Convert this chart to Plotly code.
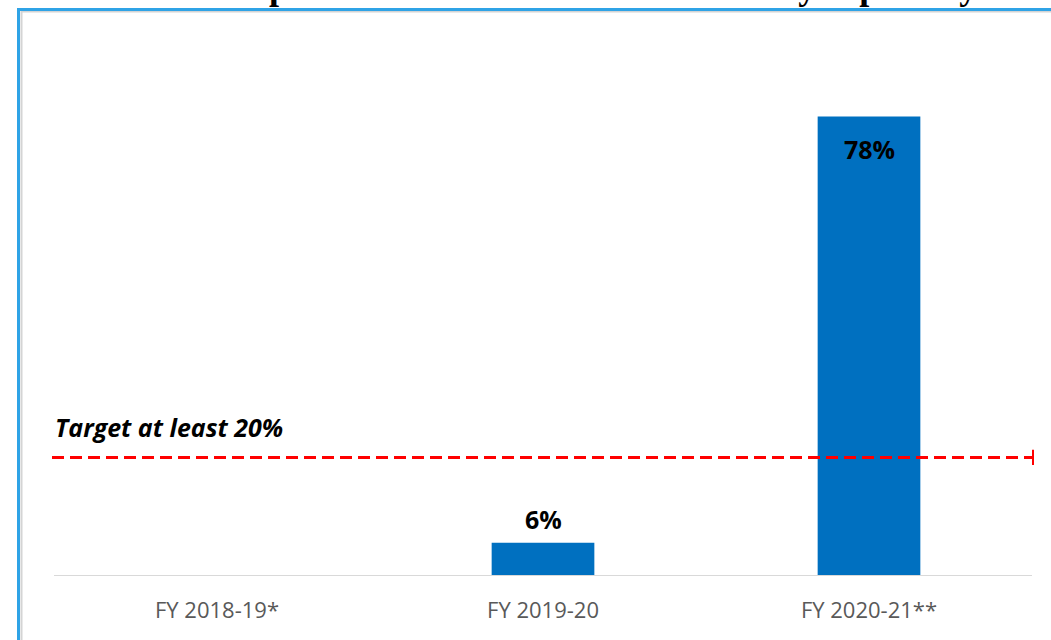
import plotly.graph_objects as go

categories = ["FY 2018-19*", "FY 2019-20", "FY 2020-21**"]
values = [0, 5.5, 78]
value_labels = ["", "6%", "78%"]
target = 20
target_label = "Target at least 20%"
title_text = "Overall improvement in the enhanced security capability"

W, H = 1051, 640
L, R, T, B = 54, 19, 40, 65
ymax = 91
pw = W - L - R
ph = H - T - B

def px_x(p):
    return (p - L) / pw

def px_y(p):
    return (H - B - p) / ph

fig = go.Figure()
fig.add_trace(go.Bar(
    x=categories, y=values,
    marker=dict(color="#0070C0", line=dict(width=0)),
    hoverinfo="skip",
))

for c, v, t in zip(categories, values, value_labels):
    if not t:
        continue
    shift = -33 if v > 40 else 24
    fig.add_annotation(x=c, y=v, text=f"<b>{t}</b>", showarrow=False,
                       yanchor="middle", yshift=shift,
                       font=dict(family="Open Sans", size=25, color="#000000"))

# target line
fig.add_shape(type="line", xref="paper", yref="y",
              x0=px_x(52), x1=px_x(1033), y0=target, y1=target,
              line=dict(color="#FF0000", width=3, dash="12px,6px"))
fig.add_shape(type="line", xref="paper", yref="y",
              x0=px_x(1033), x1=px_x(1033), y0=target - 1.3, y1=target + 1.3,
              line=dict(color="#FF0000", width=2))
fig.add_annotation(xref="paper", yref="y", x=px_x(53), y=target, xanchor="left",
                   yanchor="middle", yshift=30, showarrow=False,
                   text=f"<b><i>{target_label}</i></b>",
                   font=dict(family="Open Sans", size=25, color="#000000"))

# frame
fig.add_shape(type="line", xref="paper", yref="paper",
              x0=px_x(21.5), x1=px_x(21.5), y0=px_y(11), y1=px_y(700),
              line=dict(color="#D4D4D4", width=2))
fig.add_shape(type="line", xref="paper", yref="paper",
              x0=px_x(21), x1=px_x(1100), y0=px_y(11.5), y1=px_y(11.5),
              line=dict(color="#D4D4D4", width=2))
fig.add_shape(type="line", xref="paper", yref="paper",
              x0=px_x(18.5), x1=px_x(18.5), y0=px_y(8), y1=px_y(700),
              line=dict(color="#2FA3E6", width=3))
fig.add_shape(type="line", xref="paper", yref="paper",
              x0=px_x(17), x1=px_x(1100), y0=px_y(9.5), y1=px_y(9.5),
              line=dict(color="#2FA3E6", width=3))

# title, clipped by the top edge as in the reference
fig.add_annotation(xref="paper", yref="paper", x=px_x(540), y=px_y(9),
                   xanchor="center", yanchor="bottom", showarrow=False,
                   text=f"<b>{title_text}</b>",
                   font=dict(family="Liberation Serif", size=36, color="#000000"))

fig.update_layout(
    width=W, height=H,
    margin=dict(l=L, r=R, t=T, b=B),
    paper_bgcolor="#FFFFFF", plot_bgcolor="#FFFFFF",
    bargap=0.685,
    showlegend=False,
    xaxis=dict(showgrid=False, showline=True, linecolor="#D9D9D9", linewidth=1,
               ticks="outside", ticklen=16, tickcolor="rgba(0,0,0,0)",
               tickfont=dict(family="Open Sans", size=22, color="#595959"),
               fixedrange=True),
    yaxis=dict(range=[0, ymax], showgrid=False, showticklabels=False,
               zeroline=False, showline=False, fixedrange=True),
)

fig.write_html("out.html", config={"displayModeBar": False})
